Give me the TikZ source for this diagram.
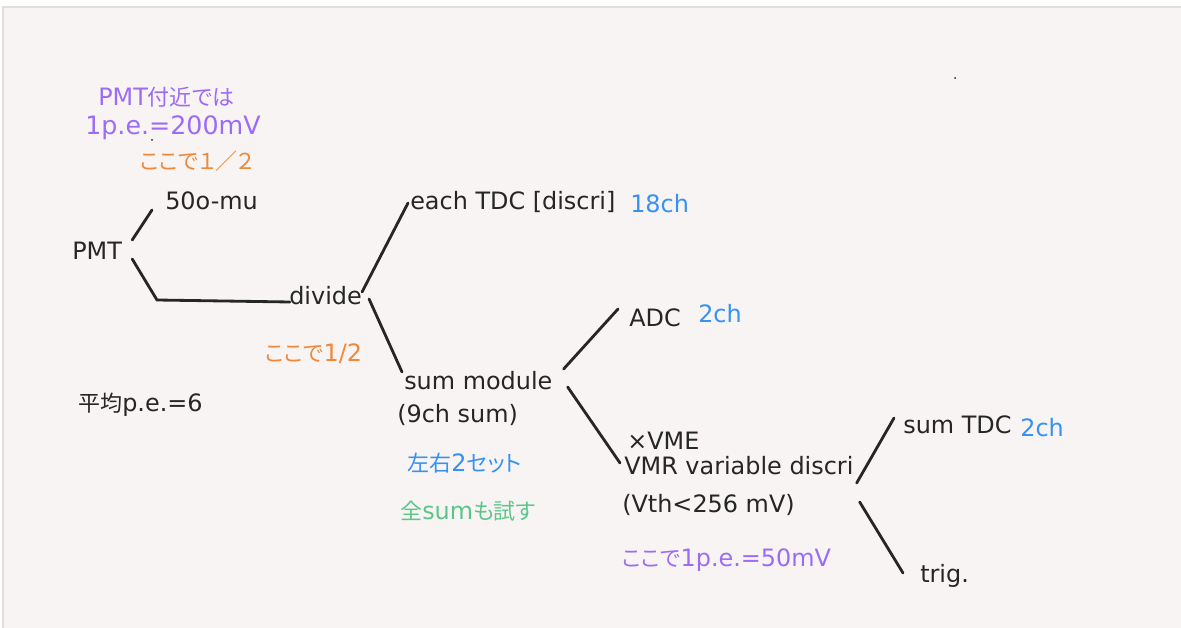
\documentclass[tikz,border=0pt]{standalone}
\usepackage{fontspec}
\setmainfont{DejaVu Sans}
\newfontfamily\jpfont[RawFeature=+palt, Scale=0.92]{Noto Sans CJK JP}
\newcommand{\jp}[1]{{\jpfont #1}}
\usetikzlibrary{calc}
\definecolor{bgpaper}{HTML}{F8F4F3}
\definecolor{framegray}{HTML}{E2DEDD}
\definecolor{inkgray}{HTML}{262626}
\definecolor{notepurple}{HTML}{9C6CF6}
\definecolor{noteorange}{HTML}{F0883A}
\definecolor{noteblue}{HTML}{3592F5}
\definecolor{notegreen}{HTML}{5CC68A}
\tikzset{
item/.style={anchor=west, inner sep=0pt, text height=16pt, text depth=3.5pt, font=\fontsize{17}{20}\selectfont, text=inkgray}, memo/.style={item, text=#1}, wire/.style={line width=2pt, draw=inkgray, line cap=round}}

\begin{document}
\begin{tikzpicture}[x=0.025cm, y=-0.025cm]
\useasboundingbox (0,0) rectangle (1181,628);
\fill [bgpaper] (3,7) rectangle (1181,628);
\draw [framegray, line width=1.5pt] (3,628) -- (3,7) -- (1181,7);

% signal chain
\node [item] (pmt) at (72,251) {PMT};
\node [item] (omu) at (165,201) {50o-mu};
\node [item] (divide) at (289,296) {divide};
\node [item] (tdc) at (410,201) {each TDC [discri]};
\node [memo=noteblue] (tdcch) at (630,204) {18ch};
\node [item] (sum) at (404,381) {sum module};
\node [item] (sumsub) at (397,414) {(9ch sum)};
\node [item] (adc) at (629,318) {ADC};
\node [memo=noteblue] (adcch) at (698,314) {2ch};
\node [item] (vme) at (627,441) {×VME};
\node [item] (vmr) at (624,466) {VMR variable discri};
\node [item] (vth) at (622,504) {(Vth<256 mV)};
\node [item] (sumtdc) at (903,425) {sum TDC};
\node [memo=noteblue] (sumtdcch) at (1020,428) {2ch};
\node [item] (trig) at (920,574) {trig.};

% notes
\node [memo=notepurple] (pmtnote) at (98,97) {PMT\jp{付近では}};
\node [memo=notepurple, font=\fontsize{18}{20}\selectfont] (penote) at (85,126) {1p.e.=200mV};
\node [memo=noteorange] (halfa) at (140,161) {\jp{ここで１／２}};
\node [memo=noteorange] (halfb) at (265,353) {\jp{ここで}1/2};
\node [item] (avg) at (78,403) {\jp{平均}p.e.=6};
\node [memo=noteblue] (sets) at (407,463) {\jp{左右}2\jp{セット}};
\node [memo=notegreen] (allsum) at (400,511) {\jp{全}sum\jp{も試す}};
\node [memo=notepurple] (penoteb) at (622,558) {\jp{ここで}1p.e.=50mV};
\fill [inkgray] (152,140) circle (1);
\fill [inkgray] (955,78) circle (1);

% connectors
\draw [wire] ($(pmt.east)+(10,-11)$) -- ($(omu.west)+(-13,9)$);
\draw [wire] ($(pmt.east)+(10,8)$) -- ($(divide.west)+(-132,4)$) -- ($(divide.west)+(1,6)$);
\draw [wire] ($(divide.east)+(0,-4)$) -- ($(tdc.west)+(-2,2)$);
\draw [wire] ($(divide.east)+(7,3)$) -- ($(sum.west)+(-2,-9)$);
\draw [wire] ($(sum.east)+(11,-12)$) -- ($(adc.west)+(-11,-9)$);
\draw [wire] ($(sum.east)+(15,6)$) -- ($(vmr.west)+(-4,-3)$);
\draw [wire] ($(vmr.east)+(3,17)$) -- ($(sumtdc.west)+(-9,-7)$);
\draw [wire] ($(vmr.east)+(6,36)$) -- ($(trig.west)+(-17,-1)$);
\end{tikzpicture}
\end{document}
